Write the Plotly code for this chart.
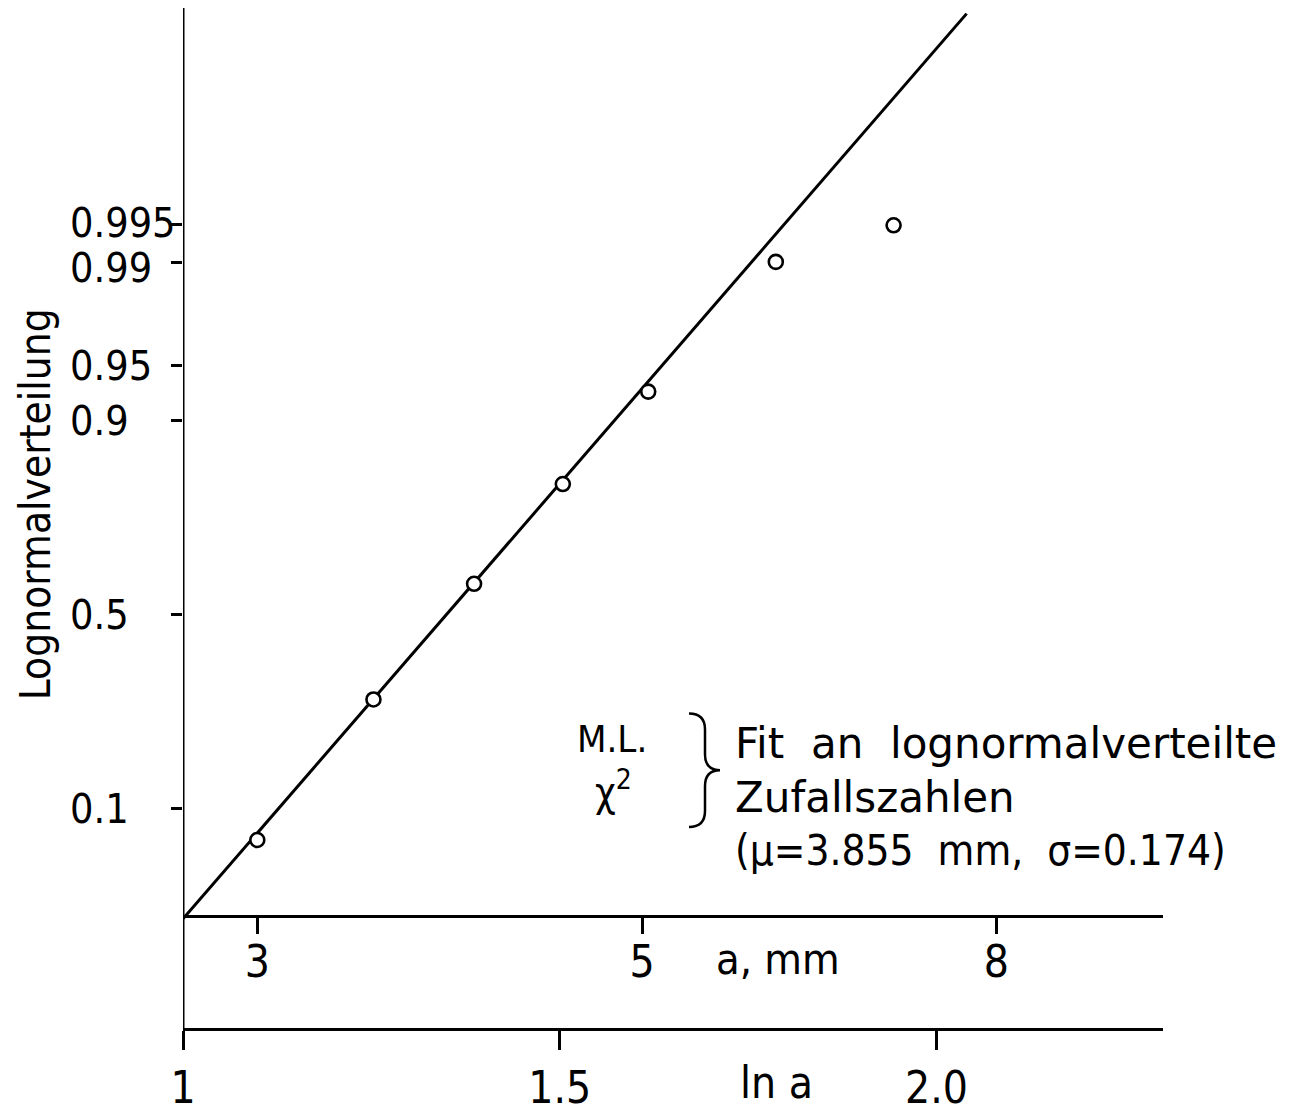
import math
from statistics import NormalDist
import plotly.graph_objects as go

# ---------------- data ----------------
a_mm = [3.0, 3.5, 4.0, 4.5, 5.04, 5.97, 6.98]            # sample sizes a (mm)
cum_prob = [0.0685, 0.288, 0.581, 0.806, 0.9297, 0.9901, 0.99494]  # empirical cumulative probability

mu_mm = 3.855          # fitted lognormal median (mm)
sigma = 0.174          # fitted lognormal sigma
fit_lna = [1.0, 2.04]  # extent of the fitted line in ln a

prob_ticks = [0.1, 0.5, 0.9, 0.95, 0.99, 0.995]
prob_tick_text = ["0.1", "0.5", "0.9", "0.95", "0.99", "0.995"]
a_ticks = [3, 5, 8]
a_tick_text = ["3", "5", "8"]
lna_ticks = [1.0, 1.5, 2.0]
lna_tick_text = ["1", "1.5", "2.0"]

# ---------------- transforms ----------------
nd = NormalDist()
z = lambda p: nd.inv_cdf(p)
lna = [math.log(v) for v in a_mm]
zs = [z(p) for p in cum_prob]
fit_z = [(x - math.log(mu_mm)) / sigma for x in fit_lna]

W, H = 1297, 1113
L, R = 183, 134
PW = W - L - R
FONT = "DejaVu Sans Condensed, Liberation Sans Narrow, DejaVu Sans, sans-serif"
FONT_W = "DejaVu Sans, sans-serif"

def px(x):
    return (x - L) / PW

def py(y):
    return (H - y) / H

x_range = [1.0, 1.0 + PW / 753.5]
y_range = [(617 - H) / 152.0, 617 / 152.0]

fig = go.Figure()
fig.add_trace(go.Scatter(x=fit_lna, y=fit_z, mode="lines",
                         line=dict(color="black", width=3), hoverinfo="skip"))
fig.add_trace(go.Scatter(x=lna, y=zs, mode="markers",
                         marker=dict(symbol="circle", size=14, color="white",
                                     line=dict(color="black", width=2.6))))
fig.add_trace(go.Scatter(x=[1.0], y=[None], xaxis="x2", mode="markers", showlegend=False))

axis_common = dict(showline=True, linecolor="black", linewidth=2.5, ticks="outside",
                   tickwidth=2.5, tickcolor="black", showgrid=False, zeroline=False,
                   tickfont=dict(family=FONT, size=44, color="black"), range=x_range,
                   anchor="free")

fig.update_layout(
    width=W, height=H,
    margin=dict(l=L, r=R, t=0, b=0, pad=0),
    paper_bgcolor="white", plot_bgcolor="white",
    showlegend=False,
    xaxis=dict(**axis_common, position=py(1033), ticklen=19,
               tickvals=lna_ticks, ticktext=lna_tick_text),
    xaxis2=dict(**axis_common, position=py(919), ticklen=17, overlaying="x", side="bottom",
                ticklabelstandoff=-10,
                tickvals=[math.log(v) for v in a_ticks], ticktext=a_tick_text),
    yaxis=dict(range=y_range, showline=False, ticks="outside", ticklen=11, tickwidth=2.5,
               tickcolor="black", tickvals=[z(p) for p in prob_ticks],
               showticklabels=False, showgrid=False, zeroline=False),
)

# vertical axis line
fig.add_shape(type="line", xref="x", yref="paper", x0=1.0, x1=1.0,
              y0=py(1045), y1=py(8), line=dict(color="black", width=3))

# brace
def P(x, y):
    return f"{px(x)} {py(y)}"
brace = (f"M {P(689,716)} Q {P(705,716)} {P(705,732)} L {P(705,757)} "
         f"Q {P(705,773)} {P(720,773)} Q {P(705,773)} {P(705,789)} "
         f"L {P(705,814)} Q {P(705,830)} {P(689,830)}")
fig.add_shape(type="path", xref="paper", yref="paper", path=brace,
              line=dict(color="black", width=2.5))

label_shift = {"0.99": -6, "0.995": 2}
ann = []
for p, t in zip(prob_ticks, prob_tick_text):
    ann.append(dict(xref="paper", yref="y", x=px(68), y=z(p), text=t, showarrow=False,
                    xanchor="left", yanchor="middle",
                    yshift=label_shift.get(t, 0),
                    font=dict(family=FONT, size=41, color="black")))

ann.append(dict(xref="paper", yref="paper", x=px(35), y=py(506), text="Lognormalverteilung",
                textangle=-90, showarrow=False, xanchor="center", yanchor="middle",
                font=dict(family=FONT, size=42, color="black")))
ann.append(dict(xref="paper", yref="paper", x=px(778), y=py(962), text="a, mm",
                showarrow=False, xanchor="center", yanchor="middle",
                font=dict(family=FONT, size=43, color="black")))
ann.append(dict(xref="paper", yref="paper", x=px(776), y=py(1086), text="ln a",
                showarrow=False, xanchor="center", yanchor="middle",
                font=dict(family=FONT, size=44, color="black")))
ann.append(dict(xref="paper", yref="paper", x=px(612), y=py(742), text="M.L.",
                showarrow=False, xanchor="center", yanchor="middle",
                font=dict(family=FONT, size=38, color="black")))
ann.append(dict(xref="paper", yref="paper", x=px(613), y=py(792), text="χ<sup>2</sup>",
                showarrow=False, xanchor="center", yanchor="middle",
                font=dict(family=FONT, size=40, color="black")))
lines = [("Fit  an  lognormalverteilte", FONT_W), ("Zufallszahlen", FONT_W),
         (f"(μ={mu_mm:.3f}  mm,  σ={sigma:.3f})", FONT)]
for i, (t, f) in enumerate(lines):
    ann.append(dict(xref="paper", yref="paper", x=px(733), y=py(746 + 54 * i), text=t,
                    showarrow=False, xanchor="left", yanchor="middle",
                    font=dict(family=f, size=42, color="black")))
fig.update_layout(annotations=ann)

fig.write_html("out.html")
